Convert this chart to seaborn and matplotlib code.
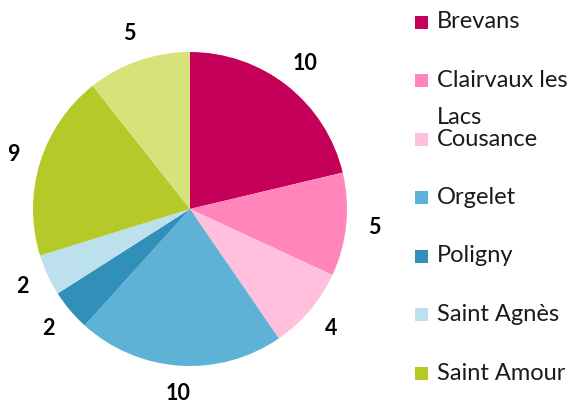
import matplotlib
matplotlib.use('Agg')
import seaborn as sns
import matplotlib.pyplot as plt
from matplotlib.patches import Rectangle

# data (clockwise from 12 o'clock)
communes = ['Brevans', 'Clairvaux les\nLacs', 'Cousance', 'Orgelet', 'Poligny',
            'Saint Agnès', 'Saint Amour', 'Autre']
effectifs = [10, 5, 4, 10, 2, 2, 9, 5]
couleurs = ['#C50058', '#FF85BB', '#FFBFDD', '#5EB2D5', '#3090B9',
            '#BDE1EC', '#B5C928', '#D7E37A']
# only the first 7 fit in the visible legend
n_legende = 7

sns.set_theme(style='white')
plt.rcParams['font.family'] = ['Lato', 'DejaVu Sans']

W, H = 572, 407
fig = plt.figure(figsize=(W / 100, H / 100), dpi=100)

# pie: centre (190, 209) px, radius 157 px
cx, cy, r = 190, 209, 157
ax = fig.add_axes([(cx - r) / W, (H - cy - r) / H, 2 * r / W, 2 * r / H])
ax.pie(effectifs, colors=couleurs, labels=[str(v) for v in effectifs],
       startangle=90, counterclock=False, labeldistance=1.18,
       wedgeprops=dict(linewidth=0),
       textprops=dict(fontsize=15.5, fontweight='bold', color='black',
                      ha='center', va='center'))
ax.set_xlim(-1, 1)
ax.set_ylim(-1, 1)
ax.set_aspect('equal')
ax.axis('off')

# hand-made legend to mimic the wrapped Excel layout
y0, pas = 22, 58.5
for i in range(n_legende):
    y = y0 + i * pas
    fig.patches.append(Rectangle((415 / W, (H - y - 6.5) / H), 13 / W, 13 / H,
                                 transform=fig.transFigure, facecolor=couleurs[i],
                                 edgecolor='none'))
    lignes = communes[i].split('\n')
    for k, ligne in enumerate(lignes):
        fig.text(437 / W, (H - y - k * 37) / H, ligne, fontsize=17,
                 ha='left', va='center', color='#1a1a1a')

fig.savefig('out.png', dpi=100)
